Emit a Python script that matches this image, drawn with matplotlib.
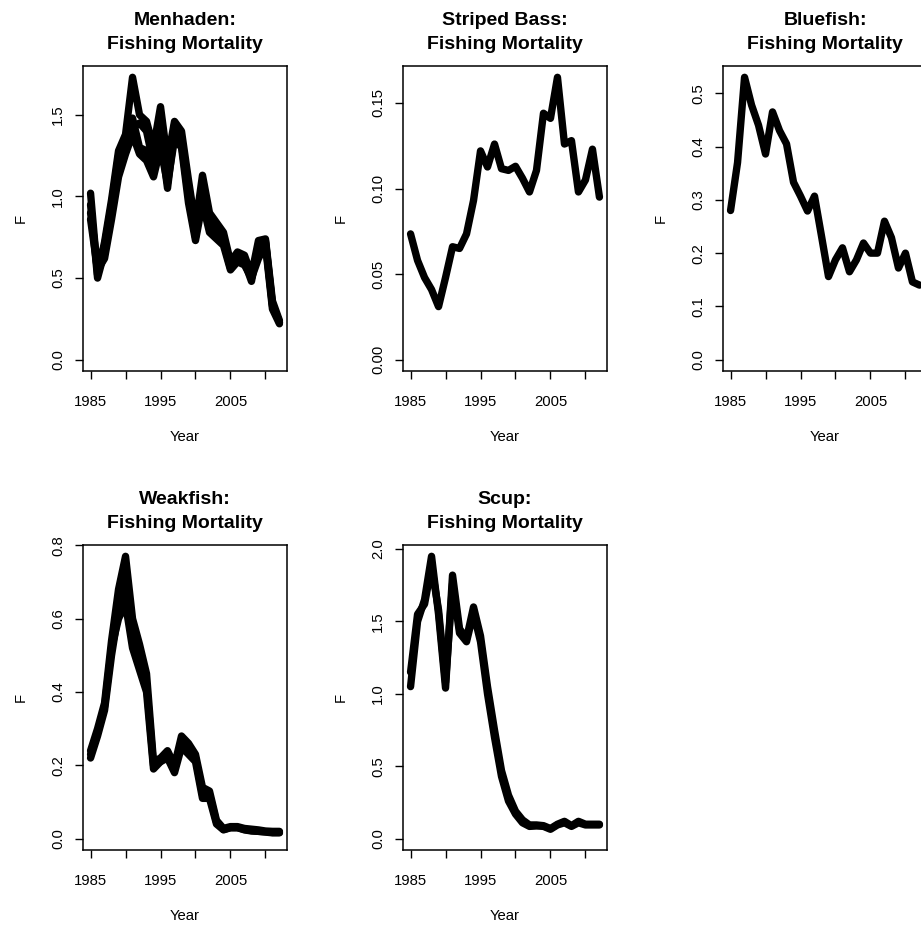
import matplotlib
matplotlib.use('Agg')
import matplotlib.pyplot as plt
import numpy as np

plt.rcParams['font.family'] = ['Liberation Sans', 'DejaVu Sans']

years = list(range(1985, 2013))

# Menhaden: several assessment runs drawn on top of each other
menhaden_a = [1.02, 0.52, 0.72, 0.98, 1.28, 1.38, 1.73, 1.50, 1.46, 1.30, 1.55, 1.22, 1.46, 1.40,
              1.10, 0.82, 1.13, 0.90, 0.84, 0.78, 0.60, 0.66, 0.64, 0.52, 0.73, 0.74, 0.36, 0.24]
menhaden_b = [0.95, 0.50, 0.66, 0.92, 1.20, 1.32, 1.48, 1.30, 1.28, 1.15, 1.38, 1.05, 1.40, 1.32,
              1.00, 0.75, 1.00, 0.82, 0.78, 0.72, 0.56, 0.62, 0.60, 0.48, 0.70, 0.72, 0.33, 0.23]
menhaden_c = [0.86, 0.55, 0.62, 0.86, 1.12, 1.26, 1.38, 1.26, 1.22, 1.12, 1.30, 1.08, 1.35, 1.30,
              0.96, 0.73, 0.96, 0.78, 0.74, 0.70, 0.55, 0.60, 0.58, 0.50, 0.62, 0.70, 0.31, 0.22]
menhaden_d = [0.90, 0.58, 0.70, 0.95, 1.25, 1.30, 1.42, 1.45, 1.40, 1.20, 1.45, 1.15, 1.44, 1.35,
              1.05, 0.80, 1.05, 0.85, 0.80, 0.75, 0.58, 0.64, 0.62, 0.50, 0.68, 0.73, 0.34, 0.23]

striped_bass = [0.0735, 0.058, 0.048, 0.041, 0.031, 0.048, 0.066, 0.065, 0.0735, 0.093, 0.122,
                0.1126, 0.126, 0.1116, 0.1106, 0.113, 0.106, 0.098, 0.1106, 0.144, 0.141, 0.165,
                0.126, 0.128, 0.098, 0.105, 0.123, 0.095]

bluefish = [0.28, 0.37, 0.53, 0.478, 0.44, 0.386, 0.465, 0.43, 0.405, 0.333, 0.307, 0.279, 0.307,
            0.232, 0.156, 0.1875, 0.21, 0.165, 0.1875, 0.219, 0.20, 0.20, 0.26, 0.229, 0.172,
            0.20, 0.146, 0.14]

weakfish_a = [0.24, 0.30, 0.37, 0.54, 0.68, 0.77, 0.60, 0.53, 0.45, 0.21, 0.22, 0.24, 0.20, 0.28,
              0.26, 0.23, 0.14, 0.13, 0.05, 0.028, 0.033, 0.033, 0.028, 0.026, 0.024, 0.021,
              0.020, 0.020]
weakfish_b = [0.22, 0.28, 0.35, 0.50, 0.62, 0.70, 0.56, 0.48, 0.42, 0.20, 0.21, 0.23, 0.19, 0.26,
              0.24, 0.22, 0.12, 0.12, 0.045, 0.025, 0.030, 0.030, 0.025, 0.022, 0.020, 0.019,
              0.017, 0.017]
weakfish_c = [0.23, 0.29, 0.36, 0.52, 0.60, 0.64, 0.52, 0.46, 0.40, 0.19, 0.21, 0.22, 0.18, 0.25,
              0.23, 0.21, 0.11, 0.11, 0.040, 0.024, 0.030, 0.030, 0.024, 0.021, 0.020, 0.018,
              0.016, 0.016]

scup_a = [1.05, 1.50, 1.65, 1.95, 1.55, 1.04, 1.82, 1.45, 1.38, 1.60, 1.40, 1.05, 0.75, 0.47,
          0.30, 0.19, 0.13, 0.095, 0.095, 0.09, 0.07, 0.10, 0.12, 0.09, 0.12, 0.10, 0.10, 0.10]
scup_b = [1.15, 1.55, 1.62, 1.88, 1.58, 1.08, 1.76, 1.42, 1.36, 1.56, 1.36, 1.00, 0.70, 0.43,
          0.26, 0.17, 0.11, 0.085, 0.088, 0.085, 0.065, 0.095, 0.11, 0.085, 0.11, 0.095, 0.095,
          0.095]

species = ['Menhaden', 'Striped Bass', 'Bluefish', 'Weakfish', 'Scup']
series = [[menhaden_a, menhaden_b, menhaden_c, menhaden_d],
          [striped_bass],
          [bluefish],
          [weakfish_a, weakfish_b, weakfish_c],
          [scup_a, scup_b]]
yticks = [[0.0, 0.5, 1.0, 1.5],
          [0.00, 0.05, 0.10, 0.15],
          [0.0, 0.1, 0.2, 0.3, 0.4, 0.5],
          [0.0, 0.2, 0.4, 0.6, 0.8],
          [0.0, 0.5, 1.0, 1.5, 2.0]]
ytick_fmt = ['%.1f', '%.2f', '%.1f', '%.1f', '%.1f']
xticks = [1985, 1990, 1995, 2000, 2005, 2010]
xtick_labels = ['1985', '', '1995', '', '2005', '']

W, H = 921, 930
fig = plt.figure(figsize=(W / 100, H / 100), dpi=100)

# panel boxes in pixels: (left, top), same width/height for all
box_w, box_h = 204, 305
corners = [(83, 66), (403, 66), (723, 66), (83, 545), (403, 545)]

for i, name in enumerate(species):
    left, top = corners[i]
    ax = fig.add_axes([left / W, (H - top - box_h) / H, box_w / W, box_h / H])
    for s in series[i]:
        ax.plot(years, s, color='black', lw=5.3, solid_joinstyle='round',
                solid_capstyle='round')
    ymax = max(max(s) for s in series[i])
    ax.set_xlim(1985 - 0.04 * 27, 2012 + 0.04 * 27)
    ax.set_ylim(-0.04 * ymax, 1.04 * ymax)

    ax.set_xticks(xticks)
    ax.set_xticklabels(xtick_labels)
    ax.set_yticks(yticks[i])
    ax.set_yticklabels([ytick_fmt[i] % v for v in yticks[i]])
    ax.tick_params(length=6, width=1, labelsize=10.7)
    ax.tick_params(axis='x', pad=11)
    ax.tick_params(axis='y', pad=7)
    for lbl in ax.get_yticklabels():
        lbl.set_rotation(90)
        lbl.set_va('center')
    for sp in ax.spines.values():
        sp.set_linewidth(1.1)

    ax.set_title(name + ':\nFishing Mortality', fontsize=14, fontweight='bold', pad=12.6,
                 linespacing=1.5)
    ax.set_xlabel('Year', fontsize=10.7)
    ax.set_ylabel('F', fontsize=10.7)
    ax.xaxis.set_label_coords(0.5, -66 / box_h)
    ax.xaxis.label.set_va('center')
    ax.yaxis.set_label_coords(-62 / box_w, 0.5)
    ax.yaxis.label.set_va('center')

fig.savefig('out.png', dpi=100)
